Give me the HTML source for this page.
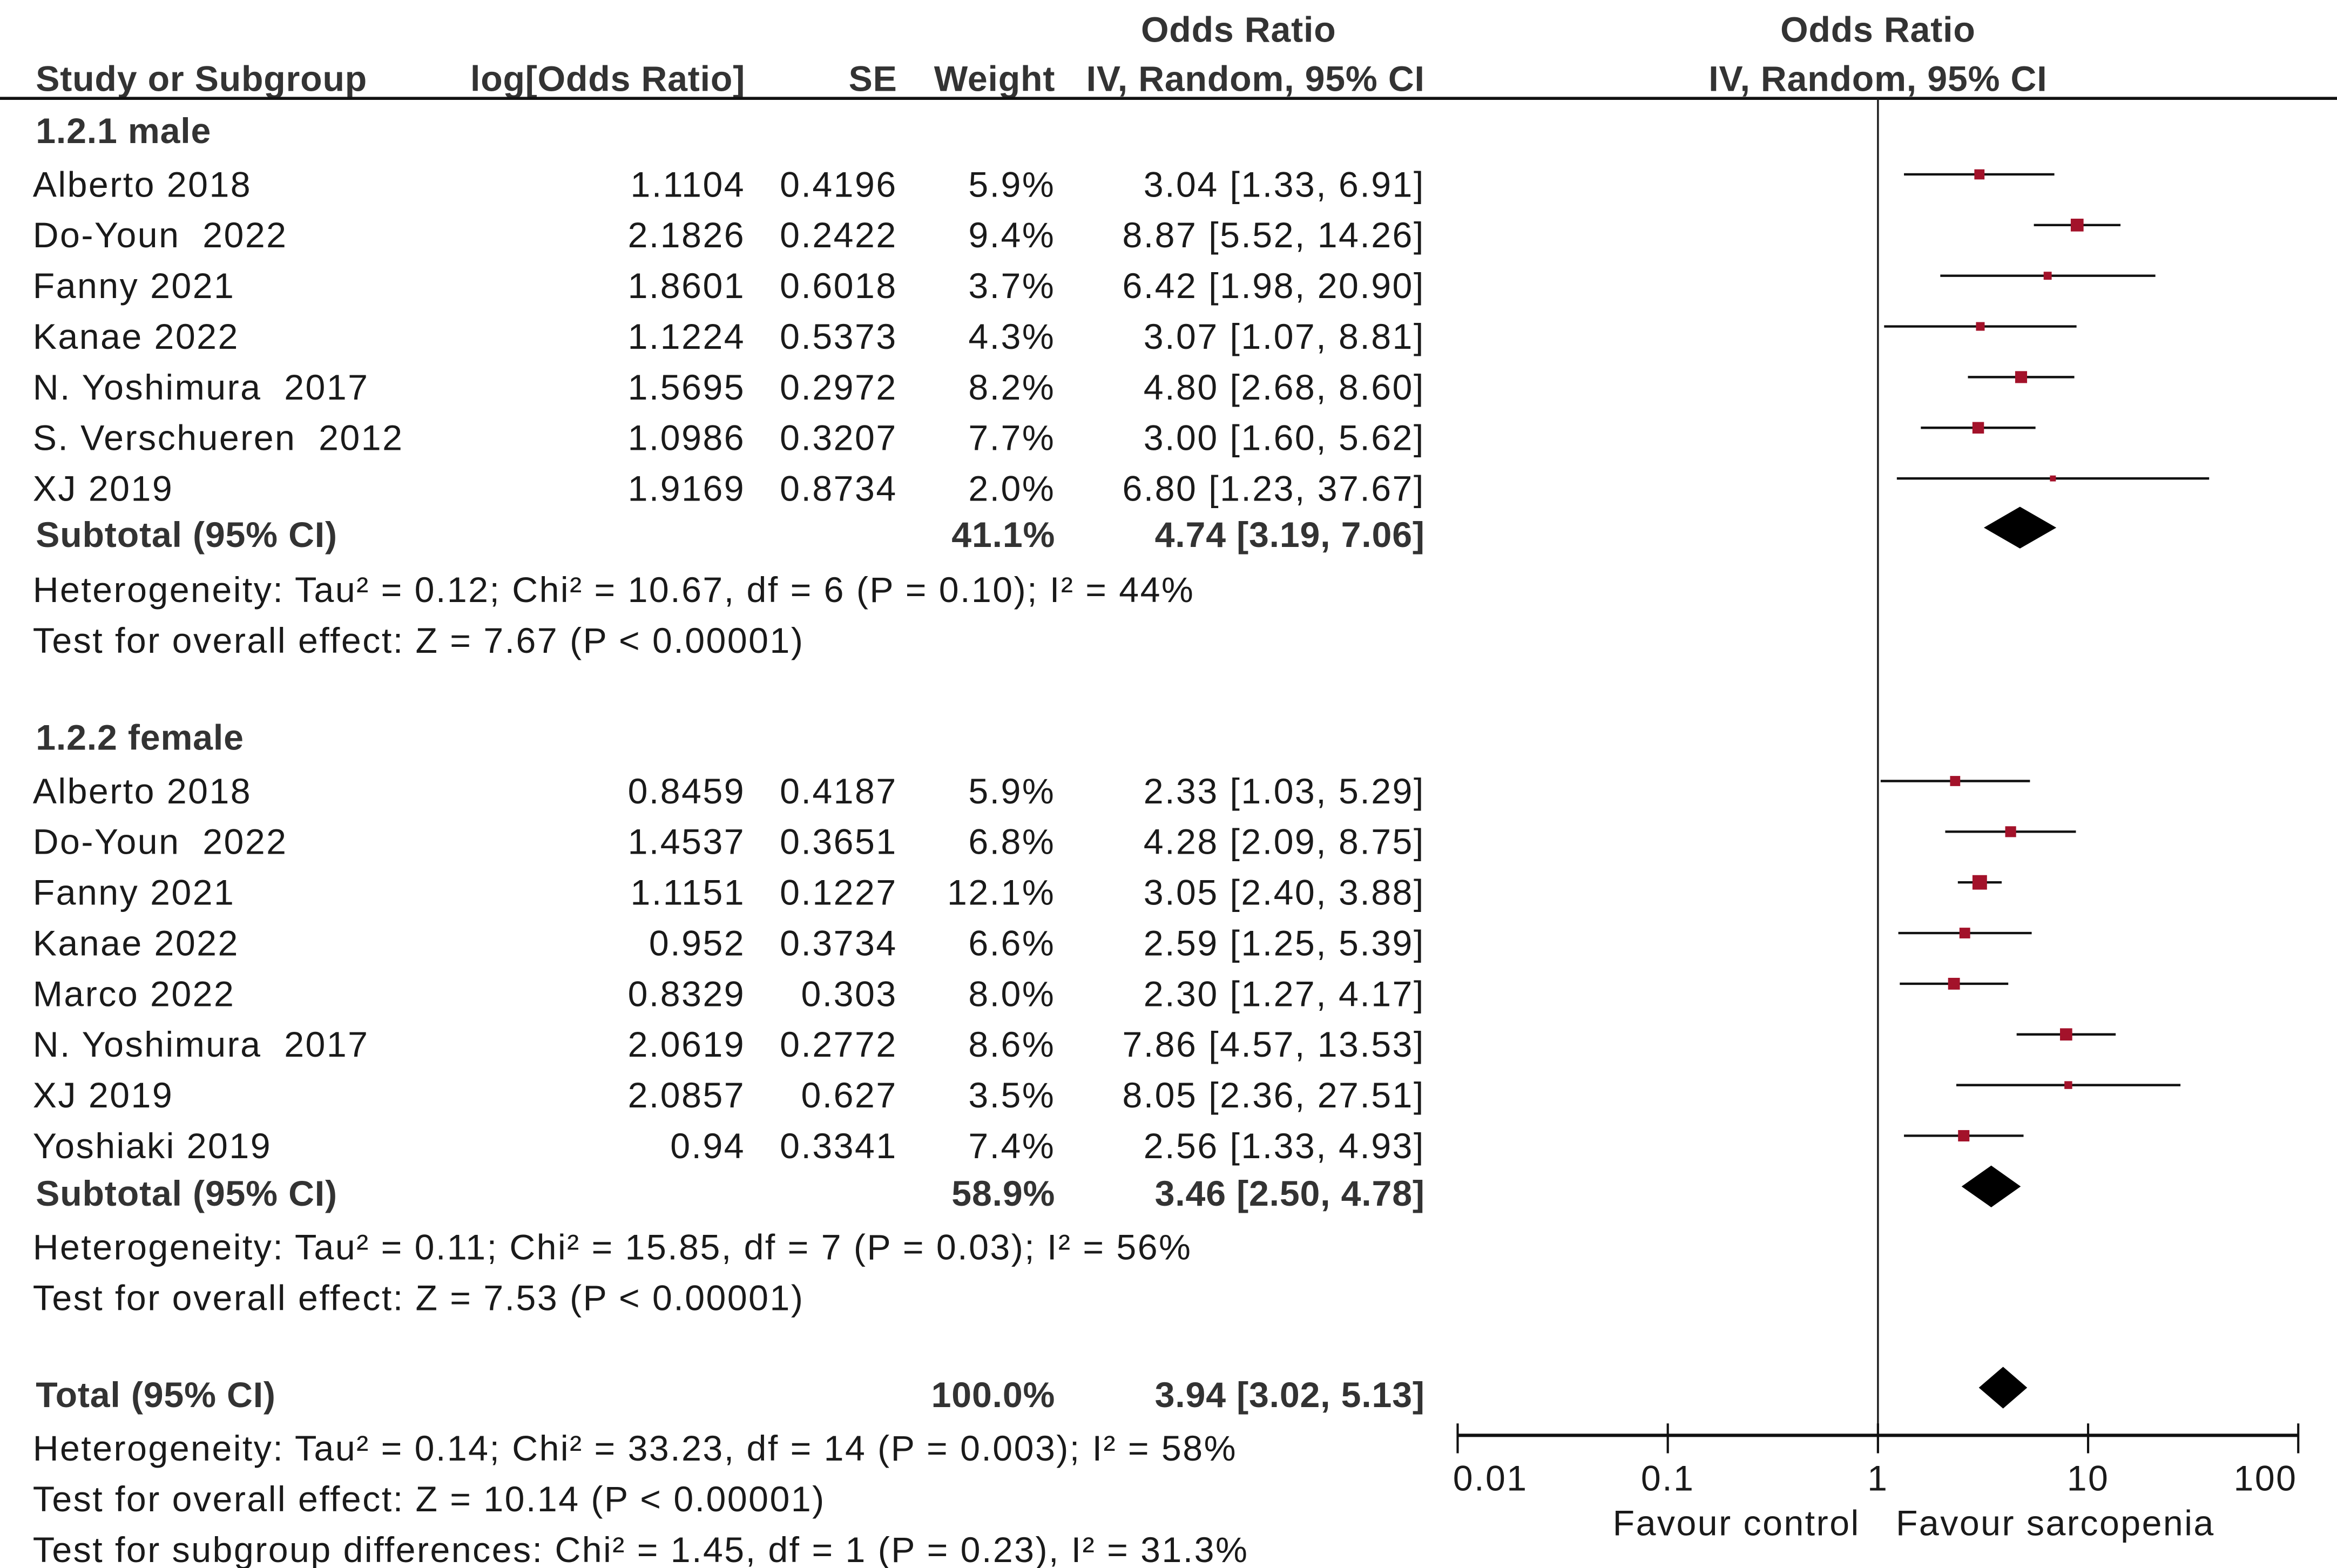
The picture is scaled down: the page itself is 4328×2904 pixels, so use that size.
<!DOCTYPE html>
<html><head><meta charset="utf-8"><style>
html,body{margin:0;padding:0;background:#fff;}
svg{display:block;}
text{font-family:"Liberation Sans",Arial,sans-serif;font-size:24px;letter-spacing:0.9px;fill:#1a1a1a;white-space:pre;}
.b{font-weight:bold;fill:#333;letter-spacing:0.3px;}
</style></head><body>
<svg id="chart" width="4328" height="2904" viewBox="0 0 1568 1052" preserveAspectRatio="none" xmlns="http://www.w3.org/2000/svg" xml:space="preserve">
<g id="table"></g>
<g id="plot"></g>
</svg>
<script>
const studyNames = ["Alberto 2018","Do-Youn  2022","Fanny 2021","Kanae 2022","N. Yoshimura  2017","S. Verschueren  2012","XJ 2019",
"Alberto 2018","Do-Youn  2022","Fanny 2021","Kanae 2022","Marco 2022","N. Yoshimura  2017","XJ 2019","Yoshiaki 2019"];
const studyGroup = [0,0,0,0,0,0,0,1,1,1,1,1,1,1,1];
const logOR = ["1.1104","2.1826","1.8601","1.1224","1.5695","1.0986","1.9169","0.8459","1.4537","1.1151","0.952","0.8329","2.0619","2.0857","0.94"];
const seVals = ["0.4196","0.2422","0.6018","0.5373","0.2972","0.3207","0.8734","0.4187","0.3651","0.1227","0.3734","0.303","0.2772","0.627","0.3341"];
const weights = [5.9,9.4,3.7,4.3,8.2,7.7,2.0,5.9,6.8,12.1,6.6,8.0,8.6,3.5,7.4];
const orVals = [3.04,8.87,6.42,3.07,4.80,3.00,6.80,2.33,4.28,3.05,2.59,2.30,7.86,8.05,2.56];
const ciLow = [1.33,5.52,1.98,1.07,2.68,1.60,1.23,1.03,2.09,2.40,1.25,1.27,4.57,2.36,1.33];
const ciHigh = [6.91,14.26,20.90,8.81,8.60,5.62,37.67,5.29,8.75,3.88,5.39,4.17,13.53,27.51,4.93];
const pooledLabels = ["Subtotal (95% CI)","Subtotal (95% CI)","Total (95% CI)"];
const pooledWeights = ["41.1%","58.9%","100.0%"];
const pooledOR = [4.74,3.46,3.94];
const pooledLow = [3.19,2.50,3.02];
const pooledHigh = [7.06,4.78,5.13];
const tickValues = [0.01,0.1,1,10,100];
const tickLabels = ["0.01","0.1","1","10","100"];

const NS="http://www.w3.org/2000/svg";
const tbl=document.getElementById('table'), plot=document.getElementById('plot');
function mk(tag,parent,attrs){const e=document.createElementNS(NS,tag);for(const k in attrs)e.setAttribute(k,attrs[k]);parent.appendChild(e);return e;}
function txt(parent,x,y,s,anchor,cls){const t=mk('text',parent,{x:x,y:y,'text-anchor':anchor||'start'});if(cls)t.setAttribute('class',cls);t.textContent=s;return t;}
const xScale = v => 1260 + Math.log10(v)*141;
const f2 = v => v.toFixed(2);

let t;
t=txt(tbl,831,28,"Odds Ratio","middle","b");


t=txt(plot,1260,28,"Odds Ratio","middle","b");


const hdr=[["Study or Subgroup",24,"start"],["log[Odds Ratio]",500,"end"],["SE",602,"end"],["Weight",708,"end"],["IV, Random, 95% CI",956,"end"],["IV, Random, 95% CI",1260,"middle"]];
hdr.forEach(h=>{const e=txt(tbl,h[1],61,h[0],h[2],"b");

});
let ln=mk('line',tbl,{x1:0,y1:66,x2:1568,y2:66,stroke:'#111','stroke-width':2});



t=txt(tbl,24,96,"1.2.1 male","start","b");


t=txt(tbl,24,503,"1.2.2 female","start","b");



const rowY=[];
let mi=0,fi=0;
studyGroup.forEach(g=>{ if(g===0){rowY.push(124+34*mi);mi++;} else {rowY.push(531+34*fi);fi++;} });

ln=mk('line',plot,{x1:1260,y1:66,x2:1260,y2:963,stroke:'#222','stroke-width':1.3});



studyNames.forEach((n,i)=>{
  const y=rowY[i], by=y+8;
  const g=mk('g',tbl,{});
  
  
  txt(g,22,by,n);
  txt(g,500,by,logOR[i],"end");
  txt(g,602,by,seVals[i],"end");
  txt(g,708,by,weights[i].toFixed(1)+"%","end");
  txt(g,956,by,f2(orVals[i])+" ["+f2(ciLow[i])+", "+f2(ciHigh[i])+"]","end");
  const ci=mk('line',plot,{x1:xScale(ciLow[i]),x2:xScale(ciHigh[i]),y1:y-7,y2:y-7,stroke:'#111','stroke-width':1.6});
  
  
  const s=2.8*Math.sqrt(weights[i]);
  const sq=mk('rect',plot,{x:xScale(orVals[i])-s/2,y:y-7-s/2,width:s,height:s,fill:'#a3122a'});
  
  
});

const pooledY=[359,801,936];
pooledY.forEach((y,i)=>{
  const g=mk('g',tbl,{});
  
  
  txt(g,24,y+8,pooledLabels[i],"start","b");
  txt(g,708,y+8,pooledWeights[i],"end","b");
  txt(g,956,y+8,f2(pooledOR[i])+" ["+f2(pooledLow[i])+", "+f2(pooledHigh[i])+"]","end","b");
  const cy=y-5;
  const d=mk('polygon',plot,{points:`${xScale(pooledLow[i])},${cy} ${xScale(pooledOR[i])},${cy-14} ${xScale(pooledHigh[i])},${cy} ${xScale(pooledOR[i])},${cy+14}`,fill:'#000'});
  
  
});

const notes=[[404,"Heterogeneity: Tau² = 0.12; Chi² = 10.67, df = 6 (P = 0.10); I² = 44%"],[438,"Test for overall effect: Z = 7.67 (P < 0.00001)"],
[845,"Heterogeneity: Tau² = 0.11; Chi² = 15.85, df = 7 (P = 0.03); I² = 56%"],[879,"Test for overall effect: Z = 7.53 (P < 0.00001)"],
[980,"Heterogeneity: Tau² = 0.14; Chi² = 33.23, df = 14 (P = 0.003); I² = 58%"],[1014,"Test for overall effect: Z = 10.14 (P < 0.00001)"],
[1048,"Test for subgroup differences: Chi² = 1.45, df = 1 (P = 0.23), I² = 31.3%"]];
notes.forEach(n=>{const e=txt(tbl,22,n[0],n[1]);

});

ln=mk('line',plot,{x1:xScale(0.01),x2:xScale(100),y1:963,y2:963,stroke:'#111','stroke-width':2.2});


tickValues.forEach((v,i)=>{
  const tk=mk('line',plot,{x1:xScale(v),x2:xScale(v),y1:955,y2:975,stroke:'#111','stroke-width':1.5});
  
  
  const lx = i===0? xScale(v)+22 : (i===4? xScale(v)-22 : xScale(v));
  const lb=txt(plot,lx,1000,tickLabels[i],"middle");
  
  
});
t=txt(plot,1248,1030,"Favour control","end");


t=txt(plot,1272,1030,"Favour sarcopenia","start");


</script>
</body></html>
